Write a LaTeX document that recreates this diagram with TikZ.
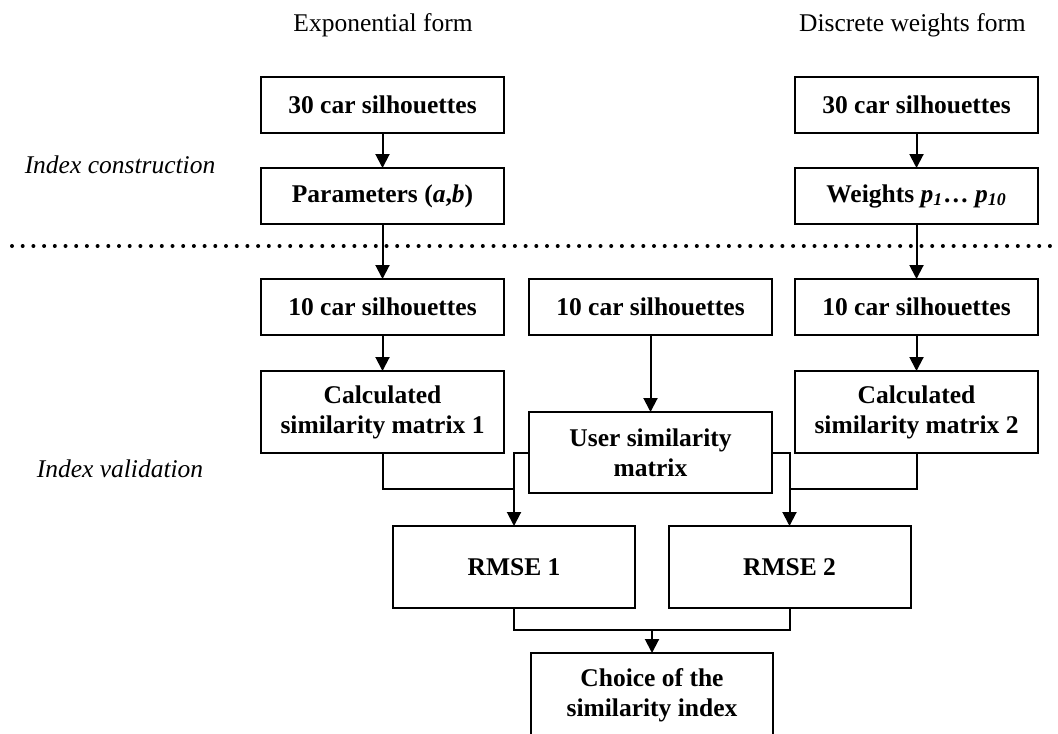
\documentclass[tikz,border=0pt]{standalone}
\usepackage{fontspec}
\setmainfont{Liberation Serif}
\usetikzlibrary{arrows.meta}
\begin{document}
\begin{tikzpicture}[x=0.5pt,y=-0.5pt,
  box/.style={draw,line width=1pt,inner sep=0pt,outer sep=0pt,align=center,
    font=\fontsize{12.75}{15}\selectfont\bfseries,minimum width=121.5pt},
  hone/.style={minimum height=28pt},
  htwo/.style={minimum height=41pt},
  conn/.style={line width=1pt},
  arr/.style={conn,-{Triangle[width=7pt,length=7pt]}},
  lab/.style={font=\fontsize{12.75}{15}\selectfont,anchor=base,inner sep=0pt},
  side/.style={font=\fontsize{12.75}{15}\selectfont\itshape,anchor=base,inner sep=0pt},
  dots/.style={line width=2pt,line cap=round,dash pattern=on 0pt off 5.35pt}]
\clip (0,0) rectangle (1058,733);
% headers
\node[lab] (hexp) at (383,32) {Exponential form};
\node[lab] (hdis) at (912.5,32) {Discrete weights form};
\node[side] (icon) at (120,173) {Index construction};
\node[side] (ival) at (120,477) {Index validation};
% separator
\coordinate (dl) at (12,246);
\coordinate (dr) at (1062,246);
\draw[dots] (dl) -- (dr);
% boxes
\node[box,hone] (t1) at (382.5,105) {30 car silhouettes};
\node[box,hone] (t2) at (382.5,196) {Parameters (\textit{a},\textit{b})};
\node[box,hone] (r1) at (916.5,105) {30 car silhouettes};
\node[box,hone] (r2) at (916.5,196) {Weights \textit{p\textsubscript{1}}… \textit{p\textsubscript{10}}};
\node[box,hone] (a1) at (382.5,307) {10 car silhouettes};
\node[box,hone] (b1) at (650.5,307) {10 car silhouettes};
\node[box,hone] (c1) at (916.5,307) {10 car silhouettes};
\node[box,htwo] (a2) at (382.5,412) {Calculated\\similarity matrix 1};
\node[box,htwo] (c2) at (916.5,412) {Calculated\\similarity matrix 2};
\node[box,minimum height=40.5pt] (b2) at (650.5,452.5) {User similarity\\matrix};
\node[box,htwo,minimum width=121pt] (e1) at (514,567) {RMSE 1};
\node[box,htwo,minimum width=121pt] (e2) at (789.5,567) {RMSE 2};
\node[box,minimum height=42pt,minimum width=121pt] (f) at (652,695) {Choice of the\\similarity index};
% connectors
\draw[arr] (t1) -- (t2);
\draw[arr] (r1) -- (r2);
\draw[arr] (t2) -- (a1);
\draw[arr] (r2) -- (c1);
\draw[arr] (a1) -- (a2);
\draw[arr] (c1) -- (c2);
\draw[arr] (b1) -- (b2);
\coordinate (jl) at (514,489);
\coordinate (jr) at (789.5,489);
\draw[conn] (a2.south) |- (jl);
\draw[conn] (c2.south) |- (jr);
\draw[arr] (b2.west) -| (e1.north);
\draw[arr] (b2.east) -| (e2.north);
\coordinate (jb) at (652,630);
\draw[conn] (e1.south) |- (jb);
\draw[conn] (e2.south) |- (jb);
\draw[arr] (jb) -- (f.north);
\end{tikzpicture}
\end{document}
